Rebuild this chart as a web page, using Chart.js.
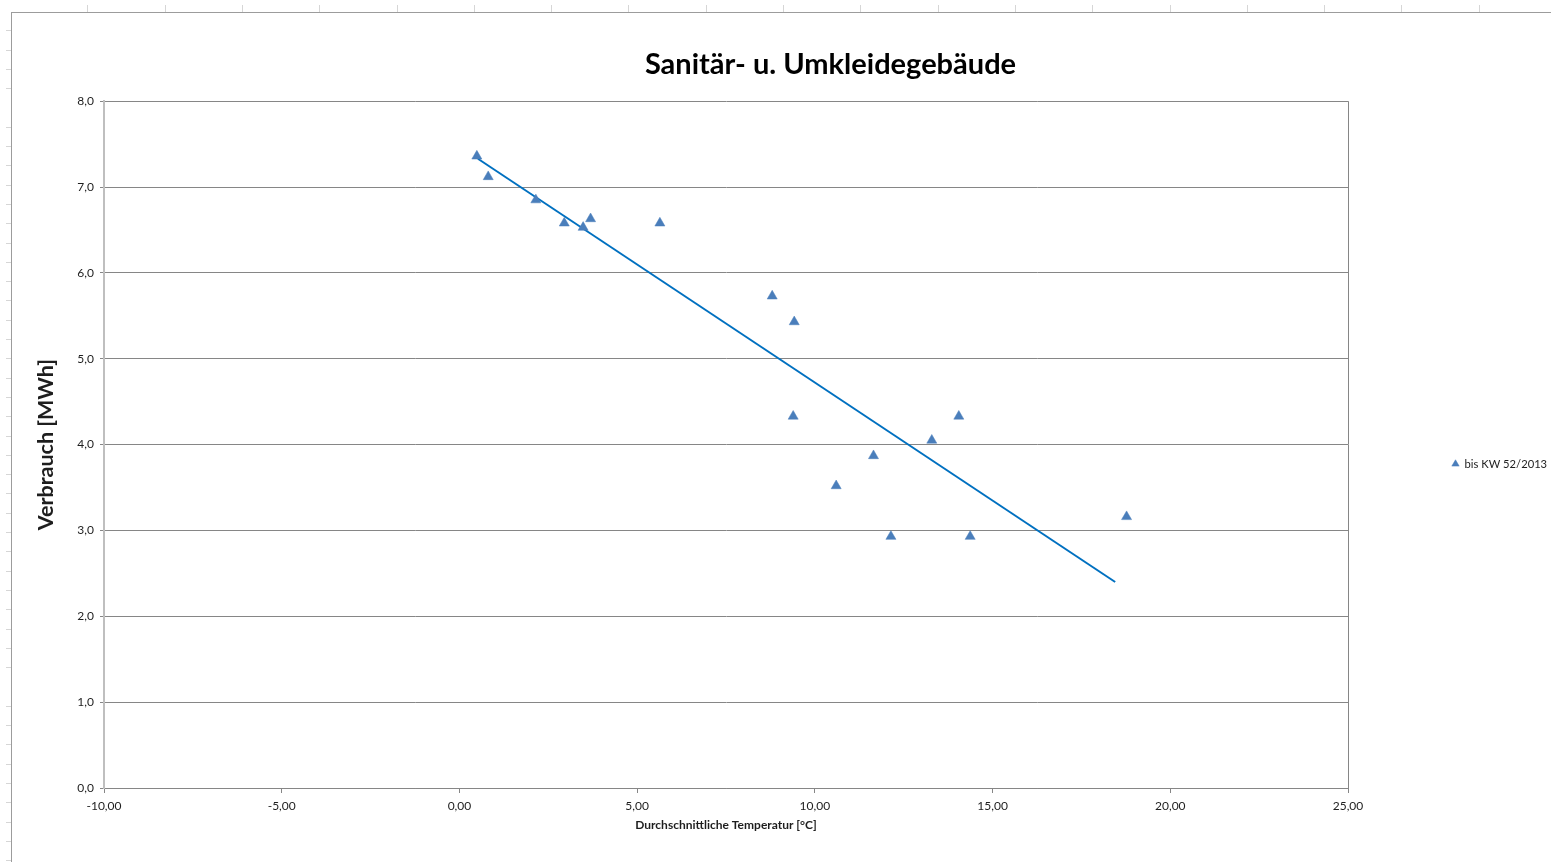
<!DOCTYPE html>
<html lang="de">
<head>
<meta charset="utf-8">
<title>Sanitär- u. Umkleidegebäude</title>
<script src="https://cdn.jsdelivr.net/npm/chart.js@4.4.1/dist/chart.umd.min.js"></script>
<style>
  html, body { margin: 0; padding: 0; background: #fff; overflow: hidden; }
  #sheet { position: absolute; left: 11px; top: 12px; right: 0; bottom: 0;
           border-left: 1px solid #9c9c9c; border-top: 1px solid #9c9c9c; }
  #cols  { position: absolute; left: 11px; top: 5px; right: 0; height: 7px;
           background: repeating-linear-gradient(to right, transparent 0 76.3px, #d6d6d6 76.3px 77.3px); }
  #rows  { position: absolute; left: 6px; top: 12px; width: 5px; bottom: 0;
           background: repeating-linear-gradient(to bottom, transparent 0 18.3px, #d6d6d6 18.3px 19.3px); }
  #wrap  { position: absolute; left: 0; top: 0; width: 1551px; height: 862px; }
</style>
</head>
<body>
<div id="cols"></div>
<div id="rows"></div>
<div id="sheet"></div>
<div id="wrap"><canvas id="chart" width="1551" height="862"></canvas></div>

<script>
// Durchschnittstemperatur je Woche [°C] und Verbrauch [MWh]
const TEMPS     = [0.49, 0.81, 2.15, 2.95, 3.48, 3.69, 5.64, 8.80, 9.42, 9.39, 10.60, 11.65, 12.14, 13.29, 14.05, 14.37, 18.77];
const VERBRAUCH = [7.36, 7.12, 6.85, 6.58, 6.53, 6.63, 6.58, 5.73, 5.43, 4.33, 3.52, 3.87, 2.93, 4.05, 4.33, 2.93, 3.16];

// lineare Trendlinie (Endpunkte)
const TREND_X = [0.52, 18.45];
const TREND_Y = [7.33, 2.40];

const SERIES_LABEL = 'bis KW 52/2013';
const X_TICKS = [-10, -5, 0, 5, 10, 15, 20, 25];
const Y_TICKS = [0, 1, 2, 3, 4, 5, 6, 7, 8];

const C_MARKER = '#4a7ebb';
const C_TREND  = '#0070c0';
const C_GRID   = '#868686';
const C_TEXT   = '#1e1e1e';
const FONT     = 'Lato, "Open Sans", sans-serif';

Chart.defaults.font.family = FONT;
Chart.defaults.color = C_TEXT;

const comma = (v, d) => v.toFixed(d).replace('.', ',');

// Titel und Legende so schieben wie bei Excel
const excelBoxes = {
  id: 'excelBoxes',
  afterInit(chart) {
    const fit = chart.legend.fit;
    chart.legend.fit = function () { fit.call(this); this.width = 203; };
  },
  afterLayout(chart) {
    chart.titleBlock.left = 110;
    chart.legend.top += 33;
    chart.legend.bottom += 33;
  },
};

new Chart(document.getElementById('chart'), {
  type: 'scatter',
  data: {
    datasets: [
      {
        label: SERIES_LABEL,
        data: TEMPS.map((t, i) => ({ x: t, y: VERBRAUCH[i] })),
        pointStyle: 'triangle',
        pointRadius: 5.8,
        pointHoverRadius: 5.8,
        backgroundColor: C_MARKER,
        borderColor: C_MARKER,
        borderWidth: 0.5,
      },
      {
        label: 'Linear',
        type: 'line',
        data: TREND_X.map((t, i) => ({ x: t, y: TREND_Y[i] })),
        borderColor: C_TREND,
        borderWidth: 2,
        pointRadius: 0,
        fill: false,
      },
    ],
  },
  options: {
    responsive: false,
    animation: false,
    layout: { padding: 0 },
    plugins: {
      title: {
        display: true,
        text: 'Sanitär- u. Umkleidegebäude',
        font: { size: 29, weight: 'bold', lineHeight: 1.2 },
        color: '#000',
        padding: { top: 47, bottom: 19.4 },
      },
      legend: {
        position: 'right',
        labels: {
          usePointStyle: true,
          boxWidth: 7,
          boxHeight: 6,
          padding: 104,
          font: { size: 11.2 },
          color: C_TEXT,
          filter: item => item.datasetIndex === 0,
        },
      },
      tooltip: { enabled: false },
    },
    scales: {
      x: {
        type: 'linear',
        min: X_TICKS[0],
        max: X_TICKS[X_TICKS.length - 1],
        afterBuildTicks: s => { s.ticks = X_TICKS.map(v => ({ value: v })); },
        afterFit: s => { s.height = 74; },
        grid: {
          color: c => (c.tick && c.tick.value === 25 ? C_GRID : 'transparent'),
          tickColor: C_GRID,
          tickLength: 5,
          lineWidth: 1,
        },
        border: { color: C_GRID, width: 1 },
        ticks: { font: { size: 12 }, padding: 6, callback: v => comma(v, 2) },
        title: {
          display: true,
          text: 'Durchschnittliche Temperatur [°C]',
          font: { size: 12, weight: 'bold', lineHeight: 1.2 },
          padding: { top: 0, bottom: 30 },
        },
      },
      y: {
        min: Y_TICKS[0],
        max: Y_TICKS[Y_TICKS.length - 1],
        afterBuildTicks: s => { s.ticks = Y_TICKS.map(v => ({ value: v })); },
        afterFit: s => { s.width = 104; },
        grid: { color: C_GRID, tickColor: C_GRID, tickLength: 4, lineWidth: 1 },
        border: { color: '#bfbfbf', width: 2 },
        ticks: { font: { size: 12 }, padding: 6, callback: v => comma(v, 1) },
        title: {
          display: true,
          text: 'Verbrauch [MWh]',
          font: { size: 21.5, weight: 'bold', lineHeight: 1.2 },
          padding: { top: 33, bottom: 0 },
        },
      },
    },
  },
  plugins: [excelBoxes],
});
</script>
</body>
</html>
